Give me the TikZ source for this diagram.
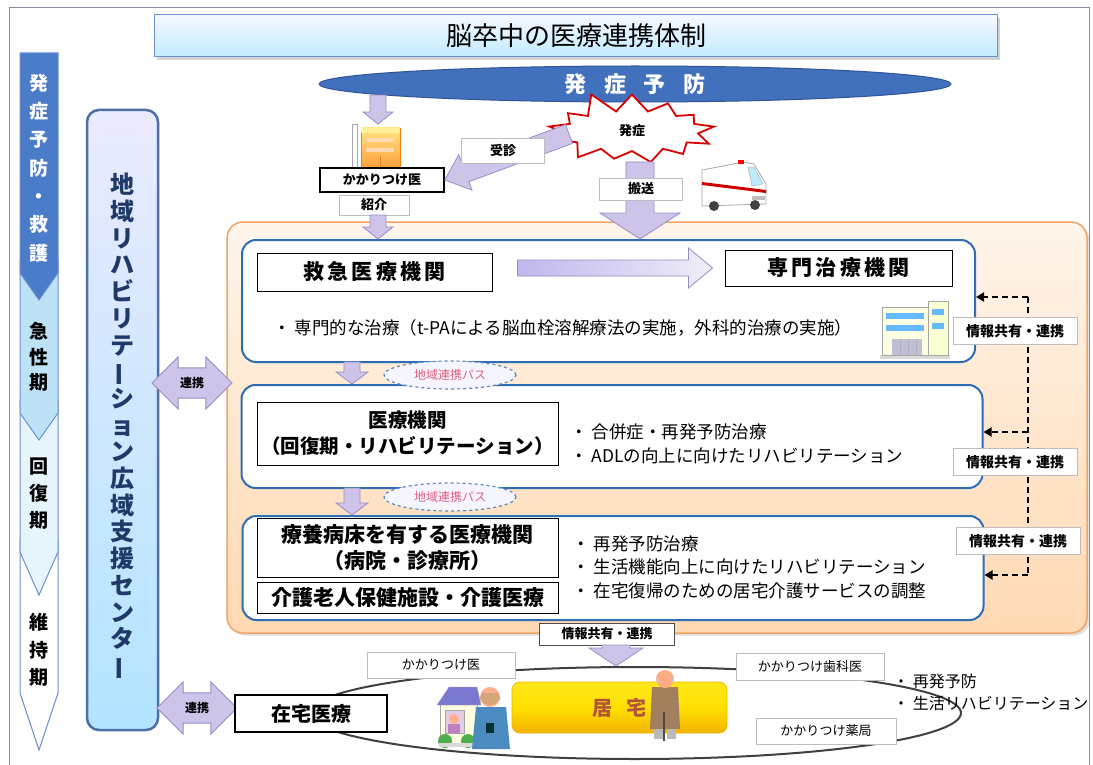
\documentclass[tikz,border=0pt]{standalone}
\usepackage{fontspec}
\setmainfont{Noto Sans CJK JP}
\usetikzlibrary{shapes.geometric,shapes.arrows,shapes.symbols,shadows,calc,arrows.meta}
\definecolor{afill}{HTML}{CEC4EA}
\definecolor{adraw}{HTML}{9A8DC6}
\definecolor{bblue}{HTML}{2E6DB4}
\definecolor{navy}{HTML}{1F3A68}
\definecolor{darkb}{HTML}{4A7CC9}
\definecolor{lightb}{HTML}{BEE2F5}
\definecolor{paleb}{HTML}{E6F4FB}
\definecolor{bandline}{HTML}{6E8ED2}
\definecolor{pinkt}{HTML}{E0607E}
\definecolor{grayb}{HTML}{BDBDBD}
\definecolor{kyotext}{HTML}{B5533A}
\definecolor{framec}{HTML}{8A8AA8}
\definecolor{ovalblue}{HTML}{4171BD}
\definecolor{ovaldraw}{HTML}{2F5597}
\definecolor{panelline}{HTML}{EFA566}
\definecolor{ytop}{HTML}{FFE81A}
\definecolor{ymid}{HTML}{FFE000}
\definecolor{ybot}{HTML}{F2B300}
\newcommand{\fs}[1]{\fontsize{#1}{#1}\selectfont}
\newcommand{\vbar}{\rotatebox[origin=c]{90}{ー}}
\tikzset{
  barrow/.style n args={3}{draw=adraw, fill=afill, line width=0.8pt,
    to path={let \p1=(\tikztostart), \p2=(\tikztotarget),
      \n1={atan2(\y2-\y1,\x2-\x1)}, \n2={veclen(\x2-\x1,\y2-\y1)} in
      [shift={(\x1,\y1)}, rotate=\n1]
      (0,-#1) -- ({\n2-#3},-#1) -- ({\n2-#3},-#2) -- (\n2,0) -- ({\n2-#3},#2) -- ({\n2-#3},#1) -- (0,#1) -- cycle}},
  stagebox/.style={draw=bblue, line width=2pt, fill=white, rounded corners=14pt, inner sep=0pt},
  tbox/.style={draw=black, line width=1pt, fill=white, inner sep=1pt, align=center, font=\bfseries\fontsize{21}{26}\selectfont},
  lbl/.style={draw=grayb, line width=0.8pt, fill=white, inner sep=0pt, font=\bfseries\fs{13}},
  infolbl/.style={draw=grayb, line width=0.8pt, fill=white, inner sep=0pt, minimum width=124pt, minimum height=27pt, font=\bfseries\fs{14}},
  bullet/.style={anchor=west, inner sep=0pt, font=\fs{17.5}},
  passoval/.style={ellipse, draw=bblue!80, dashed, line width=1.2pt, fill=blue!4, minimum width=132pt, minimum height=28pt, inner sep=0pt, text=pinkt, font=\fs{12}},
  linkarrow/.style={double arrow, double arrow head extend=11pt, minimum height=80pt, inner ysep=9pt, inner xsep=4pt, draw=adraw, fill=afill, line width=0.8pt, font=\bfseries\fs{12}},
  dline/.style={draw=black, line width=2pt, dash pattern=on 6pt off 4pt},
  vtext/.style={align=center, inner sep=0pt}
}
\begin{document}
\begin{tikzpicture}[x=1pt,y=-1pt]
\useasboundingbox (0,0) rectangle (1093,765);
\fill[white] (0,0) rectangle (1093,765);
\draw[framec, line width=1pt] (9,770) -- (9,8) -- (1089,8) -- (1089,770);

% title
\node[draw=bandline, line width=1pt, top color=blue!3, bottom color=blue!30!cyan!25, drop shadow={opacity=0.35},
      minimum width=843pt, minimum height=42pt, inner sep=0pt, font=\fs{26}] (title) at (576,36) {脳卒中の医療連携体制};

% left stage band
\path[draw=bandline, line width=1pt, fill=white] (20,540) -- (58,540) -- (58,693) -- (39,750) -- (20,693) -- cycle;
\path[draw=bandline, line width=1pt, fill=paleb] (20,400) -- (58,400) -- (58,552) -- (39,595) -- (20,552) -- cycle;
\path[draw=bandline, line width=1pt, fill=lightb] (20,260) -- (58,260) -- (58,413) -- (39,440) -- (20,413) -- cycle;
\path[draw=bandline, line width=1pt, fill=darkb] (20,53) -- (58,53) -- (58,273) -- (39,300) -- (20,273) -- cycle;
\node[vtext, text=white, font=\bfseries\fontsize{19}{28.3}\selectfont] (ph1) at (39,168) {発\\症\\予\\防\\・\\救\\護};
\node[vtext, font=\bfseries\fontsize{19}{25.5}\selectfont] (ph2) at (39,357) {急\\性\\期};
\node[vtext, font=\bfseries\fontsize{19}{27}\selectfont] (ph3) at (39,494) {回\\復\\期};
\node[vtext, font=\bfseries\fontsize{19}{27.5}\selectfont] (ph4) at (39,650) {維\\持\\期};

% center support column
\node[draw=ovaldraw!85, line width=2.5pt, top color=blue!8, bottom color=blue!35!cyan!30, rounded corners=12pt,
      minimum width=71pt, minimum height=620pt, inner sep=0pt] (center) at (122.5,420) {};
\node[vtext, text=navy, font=\bfseries\fontsize{24}{26.7}\selectfont] (centertext) at (122.5,427)
  {地\\域\\リ\\ハ\\ビ\\リ\\テ\\\vbar\\シ\\ョ\\ン\\広\\域\\支\\援\\セ\\ン\\タ\\\vbar};

% prevention oval
\node[ellipse, draw=ovaldraw, line width=1pt, fill=ovalblue, minimum width=632pt, minimum height=36pt, inner sep=0pt,
      text=white, font=\bfseries\fs{22}] (prev) at (635,84) {発\hspace{18pt}症\hspace{18pt}予\hspace{18pt}防};

% orange panel
\node[draw=panelline, line width=1.5pt, top color=orange!8, bottom color=orange!30, rounded corners=16pt,
      minimum width=860pt, minimum height=411pt, inner sep=0pt, drop shadow={opacity=0.25}] (panel) at (657,427.5) {};

% stage boxes
\node[stagebox, minimum width=733pt, minimum height=122pt] (box1) at (608.5,301) {};
\node[stagebox, minimum width=741pt, minimum height=103pt] (box2) at (612,436.5) {};
\node[stagebox, minimum width=741pt, minimum height=104pt] (box3) at (613,568) {};

% box1 content
\node[tbox, minimum width=235pt, minimum height=38pt, font=\bfseries\fontsize{21}{26}\selectfont\addfontfeature{LetterSpace=15}] (kyukyu) at (374.5,272) {救急医療機関};
\node[tbox, minimum width=227pt, minimum height=36pt, font=\bfseries\fontsize{21}{26}\selectfont\addfontfeature{LetterSpace=15}] (senmon) at (838.5,268) {専門治療機関};
\draw[barrow={8}{20}{24}, left color=afill!90!blue, right color=afill!30] (kyukyu.east |- senmon.west) ++(25,0) coordinate (ka) to ($(senmon.west)+(-12,0)$);
\node[bullet] (b11) at (273,328) {・ 専門的な治療（t-PAによる脳血栓溶解療法の実施，外科的治療の実施）};

% hospital picture
\begin{scope}[shift={(880,297)}]
  \fill[gray!30] (0,58) rectangle (70,62);
  \draw[gray!70, fill=green!6!yellow!12] (2,10) rectangle (48,58);
  \draw[gray!70, fill=green!10!yellow!18] (48,4) rectangle (68,58);
  \fill[blue!45!cyan!60] (6,16) rectangle (44,22);
  \fill[blue!45!cyan!60] (6,28) rectangle (44,34);
  \fill[blue!45!cyan!60] (52,12) rectangle (64,18);
  \fill[blue!45!cyan!60] (52,26) rectangle (64,32);
  \fill[blue!25!gray!40] (12,42) rectangle (42,58);
  \draw[gray!60] (20,42) -- (20,58) (28,42) -- (28,58) (36,42) -- (36,58);
\end{scope}

% box2 content
\node[tbox, minimum width=301pt, minimum height=63pt, text width=297pt, font=\bfseries\fontsize{19.5}{26}\selectfont] (kaifuku) at (407.5,433.5) {医療機関\\（回復期・リハビリテーション）};
\node[bullet] (b21) at (570,432) {・ 合併症・再発予防治療};
\node[bullet] (b22) at (570,456) {・ ADLの向上に向けたリハビリテーション};

% box3 content
\node[tbox, minimum width=301pt, minimum height=59pt] (ryoyo) at (407.5,547.5) {療養病床を有する医療機関\\（病院・診療所）};
\node[tbox, minimum width=301pt, minimum height=31pt] (kaigo) at (407.5,597.5) {介護老人保健施設・介護医療};
\node[bullet] (b31) at (572,544) {・ 再発予防治療};
\node[bullet] (b32) at (572,567) {・ 生活機能向上に向けたリハビリテーション};
\node[bullet] (b33) at (572,591) {・ 在宅復帰のための居宅介護サービスの調整};

% pass ovals and small arrows
\coordinate (pa1) at (352,362);
\coordinate (pa2) at (352,488);
\draw[barrow={8}{16}{12}] (pa1) to (pa1 |- box2.north);
\draw[barrow={8}{16}{12}] (pa2) to (pa2 |- box3.north);
\node[passoval] (pass1) at (450,375) {地域連携パス};
\node[passoval] (pass2) at (450,497) {地域連携パス};

% info sharing on right
\coordinate (d1) at (1028,297);
\coordinate (d2) at (1028,432);
\coordinate (d3) at (1028,575);
\draw[dline] (d1) -- (d3);
\draw[dline, -{Triangle[length=8pt,width=9pt]}] (d1) -- (box1.east |- d1);
\draw[dline, -{Triangle[length=8pt,width=9pt]}] (d2) -- (box2.east |- d2);
\draw[dline, -{Triangle[length=8pt,width=9pt]}] (d3) -- (box3.east |- d3);
\node[infolbl] (info1) at (1015,331) {情報共有・連携};
\node[infolbl] (info2) at (1015,462) {情報共有・連携};
\node[infolbl] (info3) at (1018,541) {情報共有・連携};

% link arrows
\node[linkarrow] (link1) at (192,383) {連携};
\node[linkarrow] (link2) at (197,708) {連携};

% top area
\coordinate (clin) at (378,95);
\coordinate (clinb) at (378,124);
\draw[barrow={8}{15}{12}] (clin) to (clinb);
\begin{scope}[shift={(352,122)}]
  \draw[gray!70, fill=white] (0,2) rectangle (5,46);
  \draw[orange!70!brown, top color=yellow!60!orange!50, bottom color=orange!75] (9,6) rectangle (48,46);
  \fill[orange!30!yellow!40] (9,6) rectangle (48,11);
  \fill[white!70!orange] (14,16) rectangle (42,20);
  \fill[white!70!orange] (14,26) rectangle (42,30);
  \draw[orange!60!brown] (28,34) -- (28,46);
\end{scope}
\node[draw=black, line width=1.5pt, fill=white, minimum width=124pt, minimum height=24pt, inner sep=0pt, font=\bfseries\fs{13}] (kakari) at (382,180) {かかりつけ医};
\node[lbl, minimum width=70pt, minimum height=20pt] (shokai) at (374,205) {紹介};
\coordinate (sa) at (378,215);
\draw[barrow={8}{15}{12}] (sa) to (sa |- box1.north);

\node[starburst, starburst points=13, starburst point height=22pt, random starburst=11, draw=red!85!black, fill=white,
      line width=1.8pt, inner xsep=34pt, inner ysep=8pt, font=\bfseries\fs{13}] (star) at (632,131) {発症};
\coordinate (ja) at (569,134);
\draw[barrow={10}{19}{22}] (ja) to (kakari.east);
\node[lbl, minimum width=83pt, minimum height=25pt] (jushin) at (503,151) {受診};

\coordinate (ha) at (640,162);
\draw[barrow={14}{40}{26}] (ha) to (ha |- box1.north);
\node[lbl, minimum width=83pt, minimum height=22pt] (hanso) at (641,189) {搬送};

% ambulance
\begin{scope}[shift={(700,158)}]
  \draw[gray!70, fill=white, line width=0.8pt] (2,12) -- (44,4) -- (54,6) -- (66,26) -- (66,46) -- (2,48) -- cycle;
  \fill[red!80!black] (2,24) -- (66,32) -- (66,35) -- (2,27) -- cycle;
  \draw[gray!70, fill=cyan!25] (48,9) -- (54,9) -- (63,26) -- (52,28) -- cycle;
  \fill[red] (38,2) rectangle (44,6);
  \fill[black!75] (14,48) circle (5);
  \fill[black!75] (55,47) circle (5);
  \fill[gray!50] (52,38) rectangle (65,42);
\end{scope}

% home area
\node[ellipse, draw=black!75, line width=2pt, minimum width=652pt, minimum height=92pt, inner sep=0pt] (home) at (635,713) {};
\node[draw=black!70, line width=0.8pt, fill=white, minimum width=135pt, minimum height=22pt, inner sep=0pt, font=\bfseries\fs{13}] (infob) at (607,634) {情報共有・連携};
\coordinate (ia) at (616,645);
\draw[barrow={14}{27}{18}] (ia) to (ia |- home.north);
\node[lbl, font=\fs{13}, minimum width=148pt, minimum height=26pt] (kk1) at (441,665) {かかりつけ医};
\node[lbl, font=\fs{13}, minimum width=148pt, minimum height=27pt] (kk2) at (810,667) {かかりつけ歯科医};
\node[lbl, font=\fs{13}, minimum width=140pt, minimum height=26pt] (kk3) at (826,731) {かかりつけ薬局};
\node[draw=black, line width=1.2pt, fill=white, minimum width=152pt, minimum height=37pt, inner sep=0pt, font=\bfseries\fs{20}] (zaitaku) at (311,713.5) {在宅医療};
\node[draw=ybot, line width=0.8pt, rounded corners=8pt, top color=ytop, bottom color=ybot,
      middle color=ymid, minimum width=215pt, minimum height=51pt, inner sep=0pt, text=kyotext, font=\bfseries\fs{20}] (kyotaku) at (619.5,707.5) {居\hspace{14pt}宅};
\node[bullet, font=\fs{16}] (bb1) at (893,681) {・ 再発予防};
\node[bullet, font=\fs{16}] (bb2) at (893,703) {・ 生活リハビリテーション};

% house and woman
\begin{scope}[shift={(437,683)}]
  \draw[gray!70, fill=yellow!12!white] (3,20) rectangle (40,62);
  \draw[gray!70, fill=blue!50!gray!70] (0,22) -- (12,4) -- (40,4) -- (44,22) -- cycle;
  \draw[gray!70, fill=violet!20] (8,27) rectangle (27,50);
  \fill[orange!25!pink] (17,36) circle (5);
  \fill[violet!50] (11,41) rectangle (23,50);
  \fill[green!55!black!70] (8,58) circle (7);
  \fill[green!55!black!70] (31,58) circle (7);
  \fill[gray!30] (2,60) rectangle (42,64);
\end{scope}
% caregiver
\begin{scope}[shift={(470,683)}]
  \fill[teal!70!blue!70] (6,24) -- (36,24) -- (40,66) -- (2,66) -- cycle;
  \fill[orange!25!pink] (20,14) circle (10);
  \fill[brown!70] (10,12) arc (180:0:10) -- (30,18) -- (28,10) -- (12,10) -- (10,18) -- cycle;
  \fill[teal!40!black] (16,40) rectangle (24,50);
\end{scope}
% old man
\begin{scope}[shift={(648,667)}]
  \fill[brown!55!gray] (4,20) -- (30,20) -- (32,62) -- (2,62) -- cycle;
  \fill[gray!55] (6,62) rectangle (15,72);
  \fill[gray!55] (19,62) rectangle (28,72);
  \fill[orange!30!pink] (17,12) circle (9);
  \fill[gray!40] (8,14) -- (9,8) -- (11,16) -- cycle;
  \fill[gray!40] (26,14) -- (25,8) -- (23,16) -- cycle;
  \draw[black!70, line width=1.2pt] (16,45) -- (16,74);
\end{scope}
\end{tikzpicture}
\end{document}
